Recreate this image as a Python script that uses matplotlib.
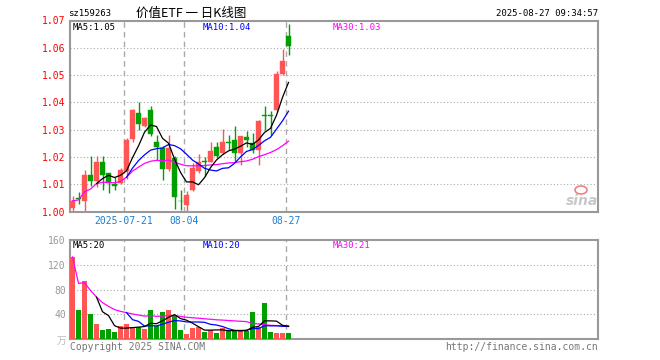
import matplotlib
matplotlib.use('Agg')
import matplotlib.pyplot as plt
import numpy as np
import pandas as pd
from matplotlib.patches import Ellipse

# ---------------- data ----------------
code = "sz159263"
title = "价值ETF 一 日K线图"
stamp = "2025-08-27 09:34:57"

dates = ["2025-07-08", "2025-07-09", "2025-07-10", "2025-07-11", "2025-07-14", "2025-07-15",
         "2025-07-16", "2025-07-17", "2025-07-18", "2025-07-21", "2025-07-22", "2025-07-23",
         "2025-07-24", "2025-07-25", "2025-07-28", "2025-07-29", "2025-07-30", "2025-07-31",
         "2025-08-01", "2025-08-04", "2025-08-05", "2025-08-06", "2025-08-07", "2025-08-08",
         "2025-08-11", "2025-08-12", "2025-08-13", "2025-08-14", "2025-08-15", "2025-08-18",
         "2025-08-19", "2025-08-20", "2025-08-21", "2025-08-22", "2025-08-25", "2025-08-26",
         "2025-08-27"]

opens = [1.0012, 1.0049, 1.0040, 1.0132, 1.0112, 1.0181, 1.0140, 1.0102, 1.0104, 1.0150,
         1.0265, 1.0361, 1.0314, 1.0373, 1.0253, 1.0233, 1.0156, 1.0195, 1.0040, 1.0022,
         1.0079, 1.0150, 1.0184, 1.0183, 1.0235, 1.0214, 1.0254, 1.0263, 1.0214, 1.0273,
         1.0251, 1.0226, 1.0353, 1.0353, 1.0373, 1.0504, 1.0645]
highs = [1.0057, 1.0070, 1.0153, 1.0202, 1.0202, 1.0202, 1.0140, 1.0125, 1.0160, 1.0268,
         1.0375, 1.0403, 1.0345, 1.0385, 1.0282, 1.0240, 1.0282, 1.0205, 1.0079, 1.0075,
         1.0177, 1.0210, 1.0199, 1.0253, 1.0253, 1.0302, 1.0281, 1.0314, 1.0277, 1.0294,
         1.0287, 1.0335, 1.0386, 1.0367, 1.0514, 1.0594, 1.0686]
lows = [1.0000, 1.0028, 1.0000, 1.0092, 1.0088, 1.0077, 1.0069, 1.0077, 1.0100, 1.0120,
        1.0255, 1.0300, 1.0310, 1.0275, 1.0190, 1.0116, 1.0150, 1.0008, 1.0006, 1.0000,
        1.0075, 1.0140, 1.0131, 1.0180, 1.0195, 1.0210, 1.0226, 1.0183, 1.0171, 1.0238,
        1.0214, 1.0171, 1.0300, 1.0281, 1.0365, 1.0500, 1.0573]
closes = [1.0039, 1.0046, 1.0132, 1.0112, 1.0181, 1.0132, 1.0106, 1.0092, 1.0153, 1.0263,
          1.0373, 1.0322, 1.0342, 1.0284, 1.0236, 1.0157, 1.0233, 1.0052, 1.0038, 1.0061,
          1.0159, 1.0180, 1.0182, 1.0222, 1.0202, 1.0253, 1.0252, 1.0214, 1.0275, 1.0263,
          1.0226, 1.0333, 1.0351, 1.0351, 1.0504, 1.0553, 1.0606]
volumes = [132.6, 47.3, 93.0, 40.8, 24.5, 14.7, 16.3, 11.4, 21.0, 24.5,
           19.0, 20.0, 16.3, 47.3, 21.0, 43.0, 47.3, 39.0, 14.7, 8.2,
           18.5, 19.0, 11.4, 14.7, 9.8, 18.5, 12.5, 12.5, 12.5, 12.5,
           44.0, 20.0, 58.0, 12.0, 10.5, 10.5, 10.5]

price_ticks = [1.00, 1.01, 1.02, 1.03, 1.04, 1.05, 1.06, 1.07]
vol_ticks = [40, 80, 120, 160]
date_marks = ["2025-07-21", "2025-08-04", "2025-08-27"]
date_labels = ["2025-07-21", "08-04", "08-27"]

# ---------------- styles ----------------
RED = "#ff5555"
GREEN = "#00a000"
GRID = "#aaaaaa"
BORDER = "#999999"
MONO = "DejaVu Sans Mono"
W, H = 660, 360

fig = plt.figure(figsize=(W / 100, H / 100), dpi=100)
fig.patch.set_facecolor("white")


def fx(x):
    return x / W


def fy(y):
    return 1 - y / H


ax = fig.add_axes([fx(70), fy(211.5), 528 / W, 191 / H])
axv = fig.add_axes([fx(70), fy(339), 528 / W, 99 / H])

n = len(dates)
idx = np.arange(n)
xc = idx + 0.42
o = np.array(opens); c = np.array(closes); h = np.array(highs); l = np.array(lows)
up = c >= o
colors = [RED if u else GREEN for u in up]

cs = pd.Series(closes)
ma5 = cs.rolling(5).mean()
ma10 = cs.rolling(10).mean()
ma30 = cs.rolling(30, min_periods=1).mean()
vs = pd.Series(volumes)
vma5 = vs.rolling(5).mean()
vma10 = vs.rolling(10).mean()
vma30 = vs.rolling(30, min_periods=1).mean()

mark_pos = [dates.index(d) for d in date_marks]

# ---------------- price panel ----------------
for a in (ax, axv):
    a.set_xlim(0, 88)
    for s in a.spines.values():
        s.set_color(BORDER)
        s.set_linewidth(1.5)
    a.tick_params(length=0)
    for p in mark_pos:
        a.axvline(p, color=GRID, lw=1, ls=(0, (4, 3)), zorder=0)

ax.set_ylim(1.00, 1.07)
for t in price_ticks[1:-1]:
    ax.axhline(t, color=GRID, lw=0.8, ls=(0, (1, 2)), zorder=0)

ax.vlines(xc, l, h, colors=colors, lw=1, zorder=2)
body_h = np.maximum(np.abs(c - o), 0.00012)
ax.bar(xc, body_h, bottom=np.minimum(o, c), width=0.82, color=colors,
       edgecolor=colors, linewidth=0.3, zorder=3)

ax.plot(xc, ma30, color="#ff00ff", lw=0.9, zorder=4)
ax.plot(xc, ma10, color="#0000ff", lw=0.9, zorder=4)
ax.plot(xc, ma5, color="black", lw=0.9, zorder=4)

ax.set_yticks(price_ticks)
ax.set_yticklabels([f"{t:.2f}" for t in price_ticks], color="red",
                   fontsize=7, family=MONO)
ax.tick_params(axis="y", pad=3)
ax.set_xticks(mark_pos)
ax.set_xticklabels(date_labels, color="#1a7fd0", fontsize=7, family=MONO)
ax.tick_params(axis="x", pad=3.5)

# ---------------- volume panel ----------------
axv.set_ylim(0, 160)
for t in vol_ticks[:-1]:
    axv.axhline(t, color=GRID, lw=0.8, ls=(0, (1, 2)), zorder=0)
axv.bar(xc, volumes, width=0.82, color=colors, zorder=3)
axv.plot(xc, vma30, color="#ff00ff", lw=0.9, zorder=4)
axv.plot(xc, vma10, color="#0000ff", lw=0.9, zorder=4)
axv.plot(xc, vma5, color="black", lw=0.9, zorder=4)
axv.set_yticks(vol_ticks)
axv.set_yticklabels([str(t) for t in vol_ticks], color="#999999",
                    fontsize=7, family=MONO)
axv.tick_params(axis="y", pad=3)
axv.set_xticks([])

# ---------------- texts ----------------
fig.text(fx(68), fy(13), code, fontsize=6.5, family=MONO, va="center", ha="left")
fig.text(fx(191), fy(13), title, fontsize=9,
         family=["Noto Sans CJK SC", "DejaVu Sans"], va="center", ha="center")
fig.text(fx(598), fy(13), stamp, fontsize=6.5, family=MONO, va="center", ha="right")

fig.text(fx(73), fy(27), f"MA5:{ma5.iloc[-1]:.2f}", fontsize=6.5, family=MONO,
         va="center", ha="left", color="black")
fig.text(fx(203), fy(27), f"MA10:{ma10.iloc[-1]:.2f}", fontsize=6.5, family=MONO,
         va="center", ha="left", color="#0000ff")
fig.text(fx(333), fy(27), f"MA30:{ma30.iloc[-1]:.2f}", fontsize=6.5, family=MONO,
         va="center", ha="left", color="#ff00ff")

fig.text(fx(73), fy(246), f"MA5:{vma5.iloc[-1]:.0f}", fontsize=6.5, family=MONO,
         va="center", ha="left", color="black")
fig.text(fx(203), fy(246), f"MA10:{vma10.iloc[-1]:.0f}", fontsize=6.5, family=MONO,
         va="center", ha="left", color="#0000ff")
fig.text(fx(333), fy(246), f"MA30:{vma30.iloc[-1]:.0f}", fontsize=6.5, family=MONO,
         va="center", ha="left", color="#ff00ff")

fig.text(fx(66), fy(341), "万", fontsize=7, color="#bbbbbb",
         family=["Noto Sans CJK SC", "DejaVu Sans"], va="center", ha="right")
fig.text(fx(70), fy(347), "Copyright 2025 SINA.COM", fontsize=7, family=MONO,
         color="#777777", va="center", ha="left")
fig.text(fx(598), fy(347), "http://finance.sina.com.cn", fontsize=7, family=MONO,
         color="#777777", va="center", ha="right")

# sina watermark
fig.text(fx(582), fy(201), "sina", fontsize=10, style="italic", weight="bold",
         color="#c8c8c8", va="center", ha="center")
fig.patches.append(Ellipse((fx(581), fy(190)), 12 / W, 8 / H, transform=fig.transFigure,
                           facecolor="none", edgecolor="#f08080", lw=1.2))

fig.savefig("out.png", dpi=100, facecolor="white")
